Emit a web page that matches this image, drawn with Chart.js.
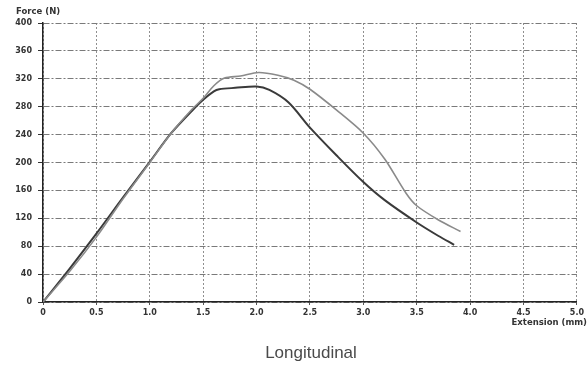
<!DOCTYPE html>
<html>
<head>
<meta charset="utf-8">
<script src="https://cdn.jsdelivr.net/npm/chart.js@4/dist/chart.umd.min.js"></script>
<style>
  html, body { margin: 0; padding: 0; background: #fff; }
  #wrap { width: 587px; height: 366px; }
</style>
</head>
<body>
<div id="wrap"><canvas id="c" width="587" height="366"></canvas></div>
<script>
// Tensile test, longitudinal specimens: extension (mm) vs force (N)
const specimenAExt   = [0, 0.25, 0.5, 0.75, 1.0, 1.2, 1.4, 1.5, 1.6, 1.65, 1.8, 2.0, 2.12, 2.3, 2.5, 2.75, 3.0, 3.2, 3.5, 3.7, 3.85];
const specimenAForce = [0, 48, 98, 150, 201, 242, 275, 290, 302, 305, 307, 309, 304, 286, 250, 210, 172, 146, 114, 95, 82];

const specimenBExt   = [0, 0.25, 0.5, 0.75, 1.0, 1.2, 1.4, 1.5, 1.6, 1.7, 1.85, 2.02, 2.2, 2.35, 2.5, 2.75, 3.0, 3.2, 3.4, 3.5, 3.7, 3.91];
const specimenBForce = [0, 44, 93, 148, 200, 242, 277, 292, 310, 321, 324, 329, 325, 318, 305, 275, 242, 205, 156, 138, 118, 101];

const xTicks = [0, 0.5, 1.0, 1.5, 2.0, 2.5, 3.0, 3.5, 4.0, 4.5, 5.0];
const yTicks = [0, 40, 80, 120, 160, 200, 240, 280, 320, 360, 400];

const toPoints = (xs, ys) => xs.map((x, i) => ({ x, y: ys[i] }));

const tickFont = { family: 'DejaVu Sans', size: 8, weight: 'bold' };

// Axis captions and the caption under the plot
const captions = {
  id: 'captions',
  afterDraw(chart) {
    const ctx = chart.ctx;
    ctx.save();
    ctx.fillStyle = '#333';
    ctx.font = 'bold 8.5px "DejaVu Sans"';
    ctx.textBaseline = 'middle';
    ctx.textAlign = 'left';
    ctx.fillText('Force (N)', 16, 12);
    ctx.textAlign = 'right';
    ctx.fillText('Extension (mm)', 587, 323);
    ctx.fillStyle = '#4a4a4a';
    ctx.font = '17px "Liberation Sans"';
    ctx.textAlign = 'center';
    ctx.fillText('Longitudinal', 311, 353);
    ctx.restore();
  }
};

new Chart(document.getElementById('c'), {
  type: 'scatter',
  data: {
    datasets: [
      {
        label: 'Specimen B',
        data: toPoints(specimenBExt, specimenBForce),
        showLine: true,
        borderColor: '#8a8a8a',
        borderWidth: 1.6,
        pointRadius: 0,
        tension: 0.3,
        fill: false
      },
      {
        label: 'Specimen A',
        data: toPoints(specimenAExt, specimenAForce),
        showLine: true,
        borderColor: '#3a3a3a',
        borderWidth: 2,
        pointRadius: 0,
        tension: 0.3,
        fill: false
      }
    ]
  },
  options: {
    responsive: false,
    animation: false,
    layout: { padding: { top: 23, right: 2, bottom: 0, left: 0 } },
    plugins: {
      legend: { display: false },
      tooltip: { enabled: false },
      title: { display: false }
    },
    scales: {
      x: {
        type: 'linear',
        min: 0,
        max: 5,
        afterFit(scale) { scale.height = 64; },
        afterBuildTicks(scale) { scale.ticks = xTicks.map(v => ({ value: v })); },
        ticks: {
          font: tickFont,
          color: '#333',
          padding: 3,
          maxRotation: 0,
          autoSkip: false,
          callback: v => (v === 0 ? '0' : v.toFixed(1))
        },
        grid: {
          color: '#8f8f8f',
          lineWidth: 1,
          tickLength: 3,
          tickColor: '#555'
        },
        // dash applies to the vertical grid lines; the axis line stays solid
        border: { display: true, color: '#222', width: 1.5, dash: [2, 2] }
      },
      y: {
        type: 'linear',
        min: 0,
        max: 400,
        afterFit(scale) { scale.width = 43; },
        afterBuildTicks(scale) { scale.ticks = yTicks.map(v => ({ value: v })); },
        ticks: {
          font: tickFont,
          color: '#333',
          padding: 6,
          autoSkip: false
        },
        grid: {
          color: '#7a7a7a',
          lineWidth: 1,
          tickLength: 5,
          tickColor: '#333'
        },
        border: { display: true, color: '#222', width: 1.5, dash: [6, 2, 2, 2] }
      }
    }
  },
  plugins: [captions]
});
</script>
</body>
</html>
